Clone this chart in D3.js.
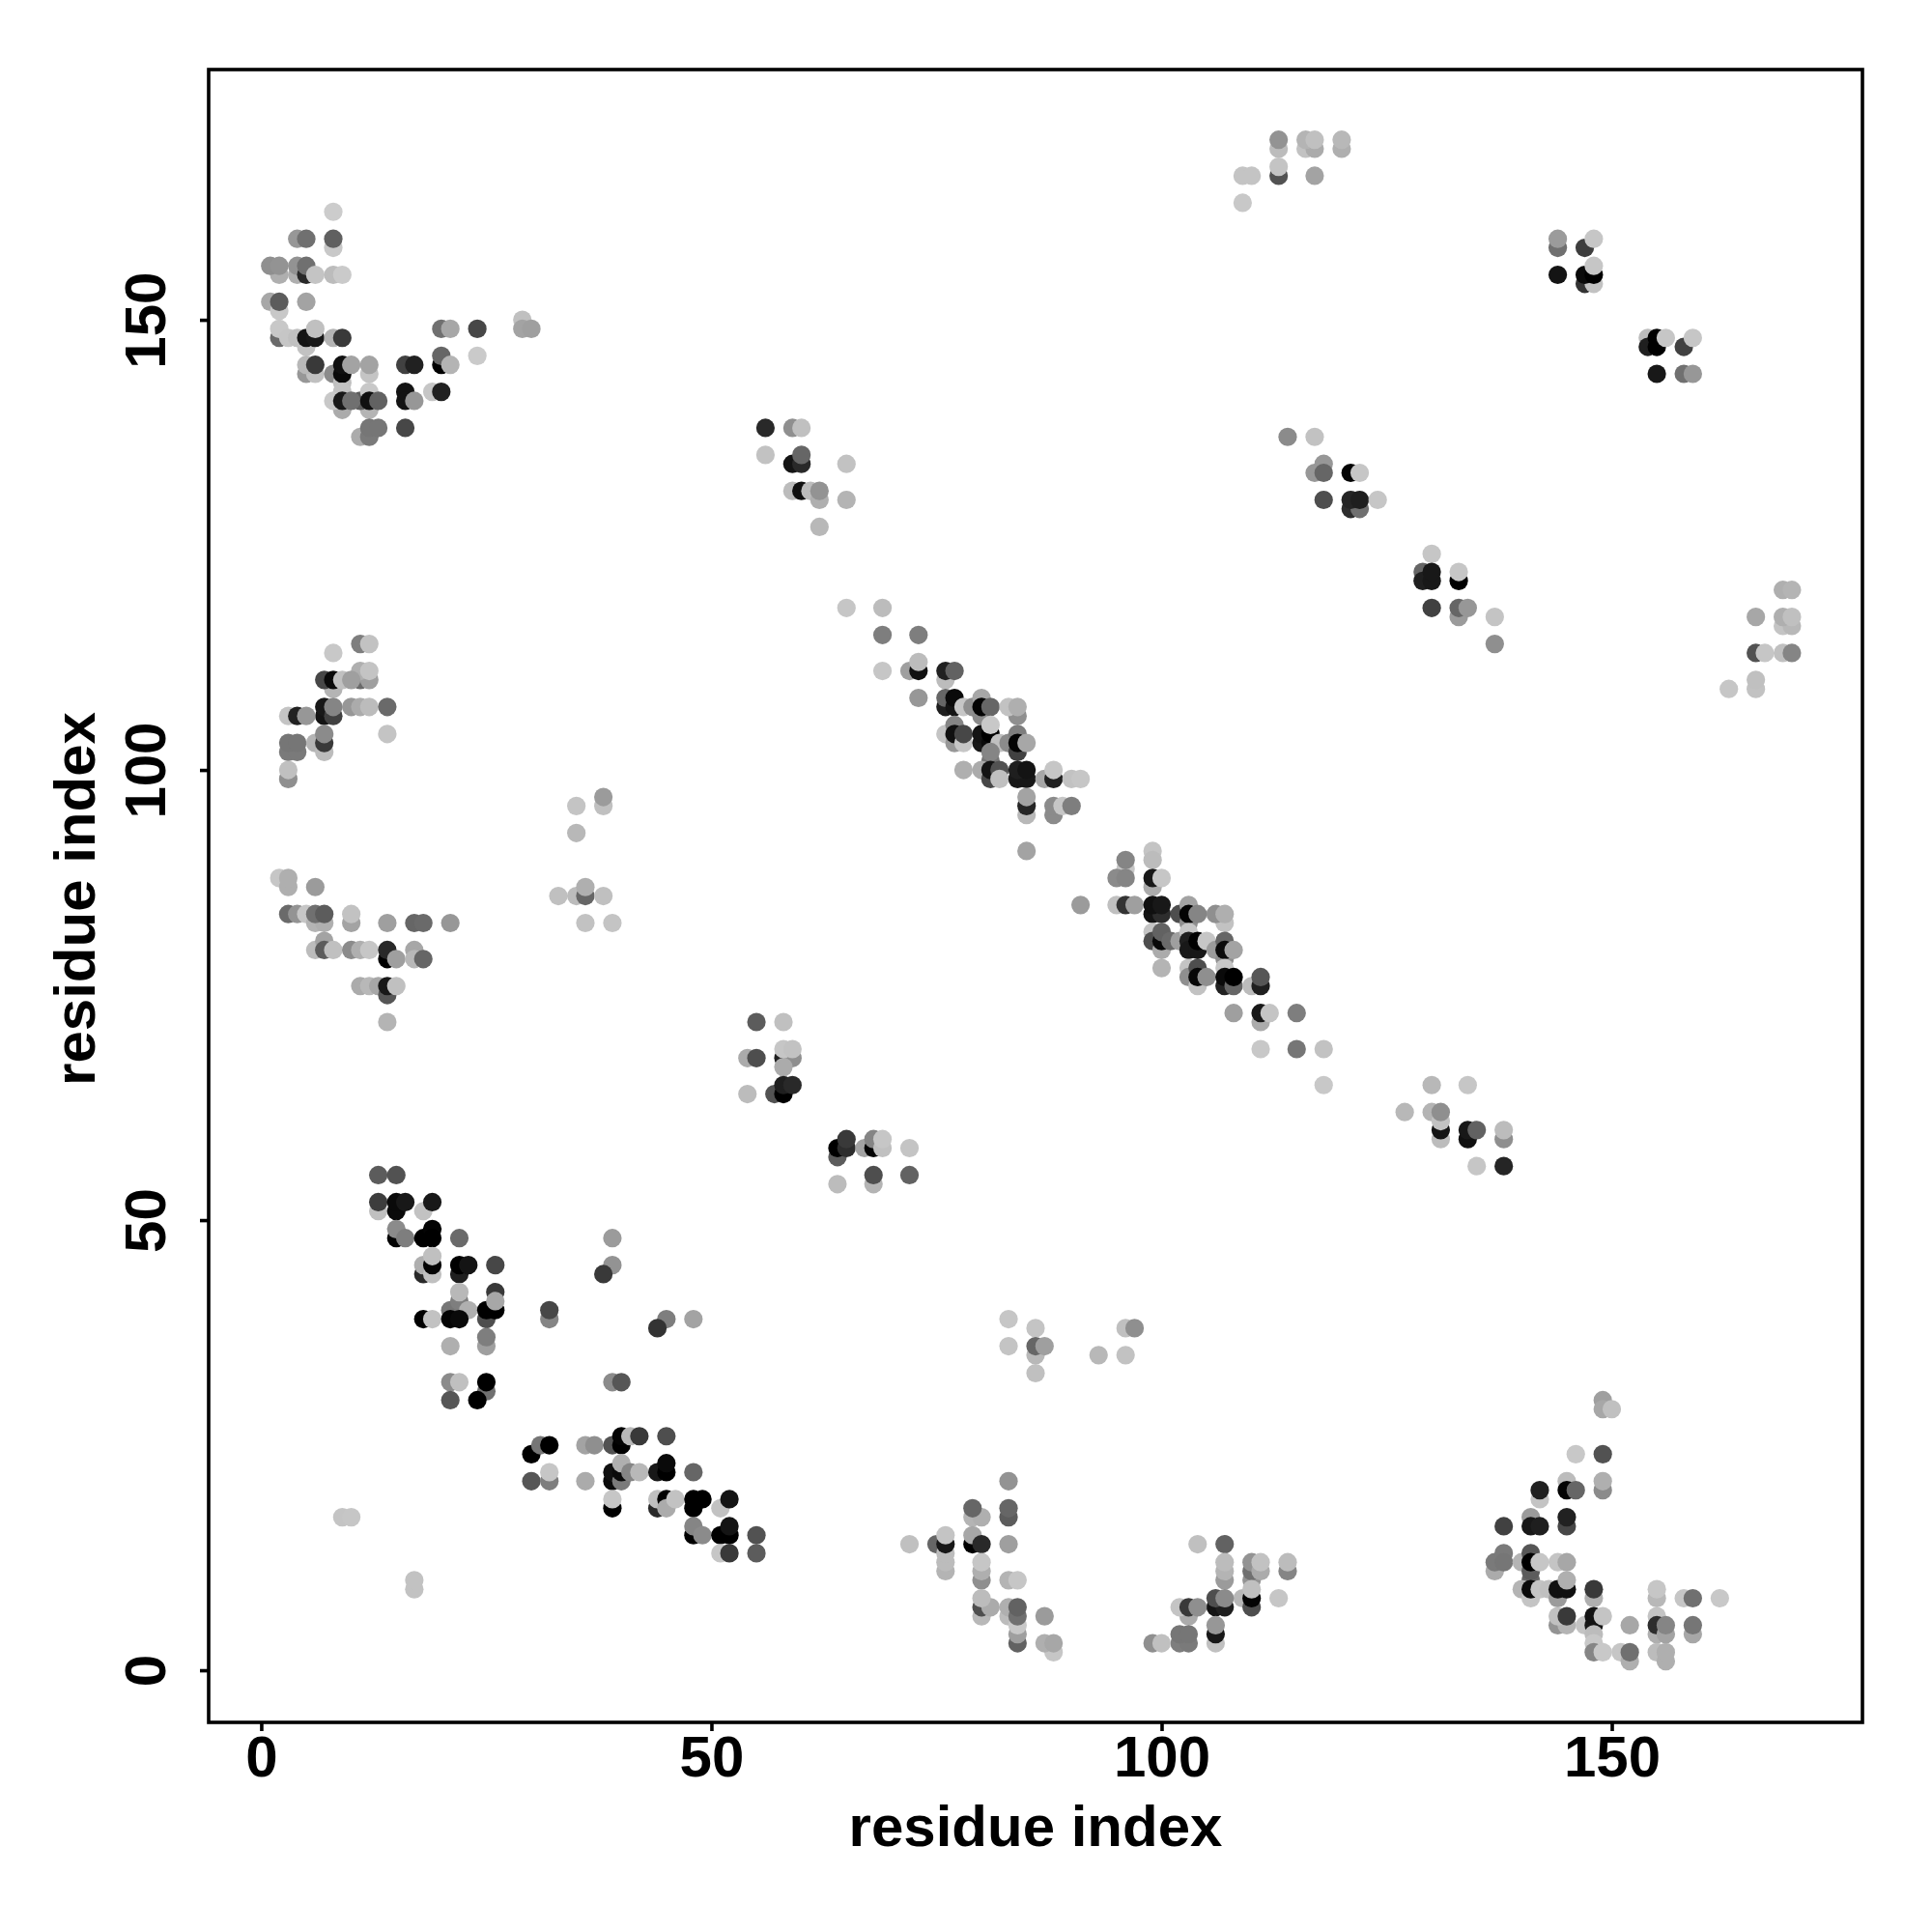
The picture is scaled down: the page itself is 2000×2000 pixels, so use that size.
<!DOCTYPE html>
<html><head><meta charset="utf-8">
<script src="https://d3js.org/d3.v7.min.js"></script>
<style>html,body{margin:0;background:#fff}svg{display:block}text{font-family:"Liberation Sans",Arial,sans-serif;font-weight:700;fill:#000}</style>
</head><body><div id="chart"></div>
<script>
// each contact: [residue i, residue j, strength 0-100]
const topLeft = [[8,162,0],[4,159,26],[5,159,45],[8,158,2],[8,159,53],[2,155,14],[1,156,30],[2,156,28],[4,155,14],[4,156,28],[5,155,80],[5,156,45],[6,155,4],[8,155,8],[9,155,1],[1,152,18],[2,151,2],[2,152,55],[5,152,20],[2,148,48],[2,149,2],[3,148,3],[4,148,6],[5,147,5],[5,148,90],[6,148,88],[6,149,6],[8,148,12],[9,148,72],[20,149,45],[21,149,18],[24,149,65],[29,150,6],[29,149,20],[30,149,22],[24,146,1],[20,145,100],[20,146,50],[21,145,12],[5,144,26],[6,144,6],[5,145,10],[6,145,72],[8,144,32],[9,143,6],[9,144,95],[9,145,92],[10,145,20],[12,144,4],[12,145,20],[16,145,68],[17,145,84],[16,142,90],[16,141,90],[17,141,26],[19,142,3],[20,142,84],[9,140,16],[12,140,12],[9,142,5],[8,141,2],[9,141,88],[11,141,55],[10,141,45],[12,142,2],[12,141,92],[13,141,52],[11,137,16],[12,137,40],[12,138,42],[13,138,42],[16,138,65]];
const upperLeft = [[11,114,38],[12,114,5],[8,113,2],[8,109,12],[11,110,48],[12,110,22],[11,111,14],[12,111,4],[7,110,65],[8,110,95],[9,110,6],[10,110,22],[7,106,90],[7,107,88],[8,106,68],[8,107,35],[10,107,26],[11,107,16],[12,107,8],[14,107,48],[3,106,4],[4,106,84],[5,106,26],[14,104,4],[3,102,40],[4,102,40],[3,103,42],[4,103,42],[6,103,12],[7,102,8],[7,103,72],[7,104,32],[3,99,30],[3,100,6]];
const midLeft = [[2,88,3],[3,87,14],[3,88,14],[6,87,24],[3,84,48],[4,84,28],[5,84,3],[6,83,12],[7,83,14],[6,84,45],[7,84,55],[10,83,20],[10,84,5],[14,83,22],[17,83,50],[18,83,48],[21,83,26],[6,80,8],[7,81,20],[7,80,55],[8,80,6],[10,80,32],[11,80,14],[12,80,3],[14,79,100],[14,80,80],[15,79,22],[17,80,18],[17,79,10],[18,79,50],[11,76,16],[12,76,10],[13,76,18],[14,75,58],[14,76,88],[15,76,6],[14,72,12]];
const sparseA = [[35,96,4],[38,96,6],[38,97,24],[35,93,10],[33,86,6],[35,86,8],[36,86,50],[36,87,14],[38,86,6],[36,83,5],[39,83,4]];
const upperMid = [[65,118,3],[69,118,8],[69,115,38],[73,115,38],[69,111,3],[72,111,22],[73,111,92],[73,112,8],[73,108,26],[56,138,80],[59,138,30],[60,138,6],[56,135,5],[59,134,90],[60,134,80],[60,135,50],[65,134,5],[59,131,8],[60,131,92],[61,131,8],[62,130,14],[62,131,28],[65,130,12],[62,127,10]];
const diagA = [[76,110,8],[76,111,84],[77,111,52],[76,107,85],[76,108,50],[77,107,90],[77,108,95],[78,107,3],[79,107,30],[80,106,32],[80,108,18],[80,107,98],[81,107,50],[84,106,30],[83,107,5],[84,107,14],[76,104,4],[77,103,26],[77,105,35],[77,104,92],[78,103,3],[78,104,65],[80,103,88],[80,104,90],[81,103,95],[81,104,100],[81,105,2],[82,103,6],[83,103,32],[84,102,68],[84,104,38],[84,103,98],[85,103,18],[81,101,42],[81,102,35],[78,100,14],[80,100,16],[81,99,65],[81,100,90],[82,100,60],[82,99,6],[84,99,88],[85,99,88],[84,100,85],[85,100,90],[87,99,18],[88,99,84],[88,100,3],[90,99,5],[91,99,3],[85,95,10],[85,96,82],[85,97,20],[88,95,32],[88,96,32],[89,96,3],[90,96,38],[85,91,20]];
const diagB = [[99,91,4],[96,89,3],[96,90,35],[95,88,32],[96,88,35],[99,90,8],[99,87,16],[99,88,88],[100,88,3],[91,85,24],[95,85,6],[96,85,75],[97,85,22],[99,84,90],[100,84,78],[99,85,92],[100,85,88],[102,84,62],[103,83,30],[103,85,20],[103,84,98],[104,84,35],[107,83,5],[106,84,30],[107,84,14],[99,82,4],[99,81,62],[100,80,16],[100,81,96],[100,82,52],[101,81,48],[102,81,22],[100,78,12],[103,82,3],[103,81,85],[103,80,88],[104,80,88],[104,81,100],[105,81,3],[106,80,24],[107,79,30],[107,81,50],[107,80,95],[108,80,20],[103,78,4],[103,77,30],[104,76,5],[104,78,62],[104,77,96],[105,77,30],[107,78,3],[107,76,84],[107,77,95],[108,76,50],[108,77,100],[110,76,8],[111,76,85],[111,77,58],[108,73,22],[111,72,16],[111,73,88],[112,73,4],[115,73,38],[111,69,2],[115,69,42],[118,69,5],[118,65,2]];
const lowerRight = [[130,65,10],[134,65,3],[127,62,10],[130,62,12],[131,59,8],[131,60,90],[131,61,5],[131,62,30],[134,59,92],[134,60,88],[135,60,52],[138,59,30],[138,60,8],[135,56,3],[138,56,82]];
const upperRight = [[114,137,32],[117,137,5],[117,133,26],[118,134,26],[118,133,50],[121,133,98],[122,133,3],[118,130,62],[121,129,78],[122,129,45],[121,130,82],[122,130,85],[124,130,3],[130,124,3],[129,122,50],[129,121,85],[130,121,88],[130,122,88],[133,121,100],[133,122,3],[130,118,68],[133,117,24],[133,118,50],[134,118,26],[137,117,4],[137,114,30]];
const farRight = [[169,120,14],[170,120,12],[166,117,18],[169,116,4],[170,116,10],[169,117,14],[170,117,6],[166,113,60],[167,113,3],[169,113,6],[170,113,35],[166,109,5],[166,110,6],[163,109,3]];
const topMid = [[113,169,8],[113,170,28],[116,169,5],[117,169,16],[116,170,12],[117,170,6],[120,169,14],[120,170,10],[109,166,4],[110,166,4],[113,166,60],[113,167,4],[117,166,20],[109,163,2]];
const topRight = [[144,158,45],[144,159,24],[147,158,70],[148,159,3],[144,155,90],[147,154,75],[148,154,5],[147,155,95],[148,155,100],[148,156,3],[154,148,8],[154,147,85],[155,147,100],[155,148,100],[156,148,3],[158,147,68],[159,148,3],[155,144,88],[158,144,45],[159,144,26]];
const lowerLeft = [[13,51,6],[13,55,55],[15,55,60],[13,52,70],[15,51,95],[15,52,95],[16,52,88],[18,51,5],[19,52,88],[15,48,98],[15,49,32],[16,48,38],[18,48,100],[19,49,98],[19,48,100],[22,48,48],[18,44,80],[18,45,14],[19,44,6],[19,45,98],[19,46,6],[22,44,85],[22,45,100],[23,45,90],[26,45,65],[21,40,42],[22,41,38],[22,42,10],[23,40,14],[25,39,62],[26,42,72],[26,40,100],[25,40,100],[26,41,18],[18,39,100],[19,39,5],[21,39,98],[22,39,95],[21,36,14],[25,36,22],[25,37,38],[21,32,32],[22,32,6],[25,31,45],[25,32,100],[21,30,58],[24,30,100]];
const sparseB = [[32,39,35],[32,40,65],[39,48,24],[39,45,28],[38,44,72],[45,39,38],[44,38,75],[48,39,20],[39,32,32],[40,32,58],[9,17,4],[10,17,3],[17,9,5],[17,10,5]];
const lowDiag = [[30,24,100],[31,25,42],[32,25,100],[30,21,58],[32,21,38],[32,22,3],[36,25,20],[37,25,30],[36,21,16],[39,25,60],[40,25,100],[40,26,98],[41,26,10],[42,26,72],[45,26,62],[39,21,95],[39,22,92],[40,21,40],[40,22,95],[40,23,14],[41,22,35],[42,22,10],[44,22,88],[45,22,100],[45,23,95],[48,22,50],[39,18,100],[39,19,3],[44,18,80],[44,19,6],[45,19,100],[45,18,16],[46,19,5],[48,18,100],[48,19,100],[49,19,100],[51,18,5],[52,19,90],[48,15,100],[48,16,35],[49,15,32],[51,15,100],[52,15,100],[52,16,90],[55,15,60],[51,13,3],[52,13,72],[55,13,55]];
const midCluster = [[55,72,55],[58,72,6],[54,68,16],[55,68,62],[58,68,85],[59,68,30],[58,67,16],[58,69,3],[59,69,5],[54,64,8],[57,64,60],[58,64,100],[58,65,85],[59,65,80],[64,57,55],[64,58,100],[65,58,78],[65,59,72],[67,58,20],[68,58,98],[68,59,35],[69,58,6],[69,59,3],[72,58,4],[64,54,8],[68,54,12],[68,55,62],[72,55,52]];
const bottomA = [[72,14,6],[75,14,50],[76,11,12],[76,12,8],[76,13,8],[76,14,88],[76,15,4],[79,17,12],[80,17,14],[79,18,50],[79,14,100],[79,15,18],[80,14,80],[80,10,30],[80,11,14],[80,12,3],[80,6,10],[80,7,62],[81,7,16],[80,8,8],[83,21,28],[83,17,55],[83,18,50],[83,14,22],[83,10,12],[84,10,3],[83,6,8],[83,7,14],[84,3,52],[84,4,22],[84,5,2],[84,6,45],[84,7,52],[87,6,24],[88,2,3],[87,3,14],[88,3,18]];
const bottomB = [[104,14,6],[107,14,52],[107,10,24],[107,11,12],[107,12,8],[110,10,28],[110,11,45],[110,12,28],[111,11,16],[111,12,5],[114,11,35],[114,12,8],[109,8,10],[110,7,62],[110,8,98],[110,9,6],[113,8,3],[106,7,90],[107,7,85],[106,8,62],[107,8,32],[103,6,16],[102,7,4],[103,7,72],[104,7,30],[102,3,38],[103,3,40],[102,4,42],[103,4,42],[106,3,6],[106,4,88],[106,5,26],[99,3,30],[100,3,6]];
const sparseC = [[83,39,3],[83,36,4],[86,38,4],[86,35,10],[86,36,50],[87,36,22],[86,33,6],[93,35,10],[96,35,5],[96,38,6],[97,38,30]];
const bottomC = [[149,30,22],[149,29,18],[150,29,6],[146,24,2],[149,24,60],[142,19,4],[142,20,84],[145,21,8],[145,20,98],[146,20,50],[149,20,32],[149,21,14],[138,16,68],[141,17,24],[141,16,88],[142,16,85],[145,16,65],[145,17,84],[137,11,16],[137,12,40],[138,13,40],[138,12,42],[140,12,12],[141,10,50],[141,11,55],[141,13,58],[141,12,100],[142,12,3],[144,12,4],[145,12,18],[140,9,12],[141,8,4],[141,9,95],[142,9,4],[143,9,6],[144,8,24],[144,9,92],[145,9,92],[145,10,14],[148,8,14],[148,9,72],[144,5,28],[145,5,12],[144,6,6],[145,6,72],[147,5,4],[148,5,88],[148,6,90],[149,6,4],[148,4,8],[148,3,2],[148,2,35],[149,2,2],[152,5,18],[151,2,3],[152,1,14],[152,2,45],[155,8,10],[155,9,3],[158,8,3],[159,8,45],[162,8,2],[155,4,14],[155,6,4],[155,5,78],[156,4,20],[156,5,35],[159,4,18],[159,5,42],[155,2,8],[156,1,14],[156,2,14]];
const tickValues = [0,50,100,150];
const axisTitle = "residue index";

const groups = [topLeft,upperLeft,midLeft,sparseA,upperMid,diagA,diagB,lowerRight,upperRight,farRight,topMid,topRight,lowerLeft,sparseB,lowDiag,midCluster,bottomA,bottomB,sparseC,bottomC];
const contacts = groups.flat();

const box = {left:216,right:1928,top:72,bottom:1783};
const x = d3.scaleLinear().domain([-5.84,177.84]).range([box.left,box.right]);
const y = d3.scaleLinear().domain([-5.79,177.8]).range([box.bottom,box.top]);
const grey = d3.scaleLinear().domain([0,100]).range([204,0]);

const svg = d3.select("#chart").append("svg").attr("width",2000).attr("height",2000);
svg.append("g").selectAll("circle").data(contacts).join("circle")
  .attr("cx",d=>x(d[0])).attr("cy",d=>y(d[1])).attr("r",9.6)
  .attr("fill",d=>{const g=Math.round(grey(d[2]));return `rgb(${g},${g},${g})`;});

svg.append("rect").attr("x",box.left).attr("y",box.top)
  .attr("width",box.right-box.left).attr("height",box.bottom-box.top)
  .attr("fill","none").attr("stroke","#000").attr("stroke-width",3.6);

const gx = svg.append("g").attr("transform",`translate(0,${box.bottom})`)
  .call(d3.axisBottom(x).tickValues(tickValues).tickSize(9).tickPadding(0).tickFormat(d3.format("d")));
const gy = svg.append("g").attr("transform",`translate(${box.left},0)`)
  .call(d3.axisLeft(y).tickValues(tickValues).tickSize(9).tickPadding(0).tickFormat(d3.format("d")));
[gx,gy].forEach(g=>{
  g.select(".domain").remove();
  g.selectAll("line").attr("stroke","#000").attr("stroke-width",3.6);
  g.selectAll("text").attr("font-size",60).attr("fill","#000")
    .style("font-family",'"Liberation Sans",Arial,sans-serif').style("font-weight",700);
});
gx.selectAll("text").attr("y",56).attr("dy",0);
gy.selectAll("text").attr("x",0).attr("dy",0).attr("text-anchor","middle")
  .attr("transform","translate(-45,0) rotate(-90)");

svg.append("text").attr("x",(box.left+box.right)/2).attr("y",1911).attr("text-anchor","middle").attr("font-size",60).text(axisTitle);
svg.append("text").attr("transform",`translate(98,${(box.top+box.bottom)/2+3}) rotate(-90)`).attr("text-anchor","middle").attr("font-size",60).text(axisTitle);
</script></body></html>
